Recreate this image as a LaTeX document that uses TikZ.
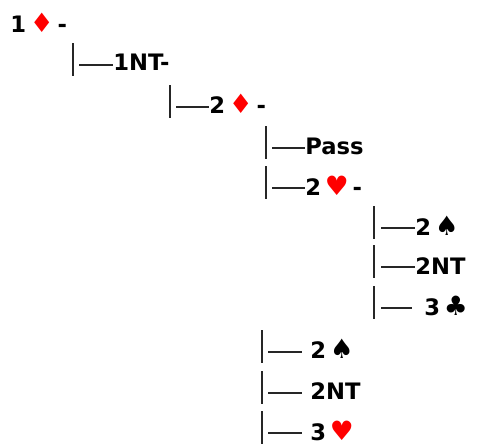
\documentclass[tikz,border=0pt]{standalone}
\usepackage{fontspec}
\usepackage{xcolor}
\setmainfont{DejaVu Sans}
\usetikzlibrary{calc}
\newcommand{\suitfont}{\fontsize{20}{19}\selectfont}
\newcommand{\sDia}{{\suitfont\textcolor{red}{♦}}}
\newcommand{\sHrt}{{\suitfont\textcolor{red}{♥}}}
\newcommand{\sSpd}{{\suitfont ♠}}
\newcommand{\sClb}{{\suitfont ♣}}
\begin{document}
\begin{tikzpicture}[x=0.75pt,y=-0.75pt]
    \tikzset{
        bid/.style={
            anchor=base west,
            inner sep=0pt,
            font=\fontsize{17}{19}\selectfont\bfseries
        },
        tree/.style={
            draw,
            line width=0.9pt,
            black!85
        }
    }
    \useasboundingbox (0,0) rectangle (477,447);

    % Opening
    \node[bid] (D1) at (10,32) {1\,\sDia\,-};

    % Response
    \coordinate (r1) at (73,65);
    \node[bid] (NT1) at (113,70) {1NT-};

    % Rebid
    \coordinate (r2) at (170,107);
    \node[bid] (D2) at (209,113) {2\,\sDia\,-};

    %% Responder's second bid
    \coordinate (r3) at (266,148);
    \node[bid] (Pass) at (305,154) {Pass};
    \coordinate (r4) at (266,188);
    \node[bid] (H2) at (305,195) {2\,\sHrt\,-};

    %%% After 2H
    \coordinate (r5) at (374,228);
    \node[bid] (S2a) at (415,235) {2\,\sSpd};
    \coordinate (r6) at (374,267);
    \node[bid] (NT2a) at (415,274) {2NT};
    \coordinate (r7) at (374,308);
    \node[bid] (C3) at (424,315) {3\,\sClb};

    %% Other continuations
    \coordinate (r8) at (262,352);
    \node[bid] (S2b) at (310,358) {2\,\sSpd};
    \coordinate (r9) at (262,393);
    \node[bid] (NT2b) at (310,399) {2NT};
    \coordinate (r10) at (262,433);
    \node[bid] (H3) at (310,440) {3\,\sHrt};

    % Bars
    \foreach \r in {r1,r2,r3,r4,r5,r6,r7,r8,r9,r10}
        \draw[tree] (\r) ++(0,-22) -- ++(0,33);

    % Dashes
    \draw[tree] (r1) ++(6,0) -- (r1 -| NT1.west);
    \draw[tree] (r2) ++(6,0) -- (r2 -| D2.west);
    \draw[tree] (r3) ++(6,0) -- (r3 -| Pass.west);
    \draw[tree] (r4) ++(6,0) -- (r4 -| H2.west);
    \draw[tree] (r5) ++(7,0) -- (r5 -| S2a.west);
    \draw[tree] (r6) ++(7,0) -- (r6 -| NT2a.west);
    \draw[tree,shorten >=9pt] (r7) ++(7,0) -- (r7 -| C3.west);
    \draw[tree,shorten >=6pt] (r8) ++(6,0) -- (r8 -| S2b.west);
    \draw[tree,shorten >=6pt] (r9) ++(6,0) -- (r9 -| NT2b.west);
    \draw[tree,shorten >=6pt] (r10) ++(6,0) -- (r10 -| H3.west);
\end{tikzpicture}
\end{document}
